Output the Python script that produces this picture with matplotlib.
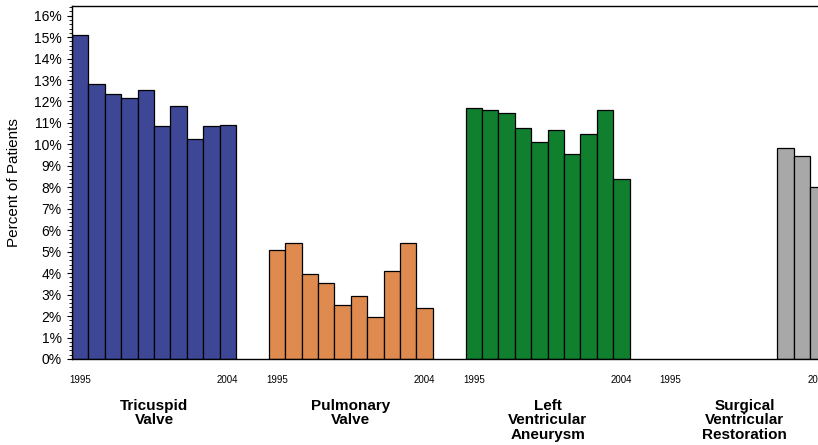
import numpy as np
import matplotlib
matplotlib.use("Agg")
import matplotlib.pyplot as plt
from matplotlib.ticker import MultipleLocator, FuncFormatter
from matplotlib.transforms import blended_transform_factory

plt.rcParams['font.family'] = ['Liberation Sans', 'DejaVu Sans']

years = list(range(1995, 2005))
groups = ["Tricuspid\nValve", "Pulmonary\nValve",
          "Left\nVentricular\nAneurysm", "Surgical\nVentricular\nRestoration"]

tricuspid = [15.1, 12.8, 12.35, 12.15, 12.55, 10.85, 11.8, 10.25, 10.85, 10.9]
pulmonary = [5.07, 5.42, 3.95, 3.55, 2.5, 2.95, 1.98, 4.1, 5.42, 2.37]
lv_aneurysm = [11.7, 11.6, 11.45, 10.78, 10.12, 10.66, 9.57, 10.5, 11.6, 8.4]
svr = [np.nan] * 7 + [9.85, 9.47, 8.03]

series = [tricuspid, pulmonary, lv_aneurysm, svr]
colors = ["#3d4796", "#df8b4f", "#10802f", "#a8a8a8"]

group_step = 12  # 10 bars plus a gap of two bar widths

fig = plt.figure(figsize=(8.18, 4.45), dpi=100)
# axes runs past the right edge of the figure, as in the cropped original
ax = fig.add_axes([72 / 818, 86 / 445, 47 * 16.4 / 818, 353 / 445])

tick_pos = []
tick_lab = []
for g, (vals, col) in enumerate(zip(series, colors)):
    x = g * group_step + np.arange(len(years))
    v = np.array(vals, dtype=float)
    ok = ~np.isnan(v)
    ax.bar(x[ok], v[ok], width=1.0, color=col, edgecolor="black", linewidth=0.9)
    tick_pos += [x[0], x[-1]]
    tick_lab += [str(years[0]), str(years[-1])]

ax.set_xlim(-0.5, 46.5)
ax.set_ylim(0, 16.45)

ax.set_xticks(tick_pos)
ax.set_xticklabels(tick_lab, fontsize=7)
ax.tick_params(axis="x", length=0, pad=11.5)

ax.yaxis.set_major_locator(MultipleLocator(1))
ax.yaxis.set_minor_locator(MultipleLocator(0.2))
ax.yaxis.set_major_formatter(FuncFormatter(lambda v, p: f"{v:.0f}%"))
ax.tick_params(axis="y", which="major", length=3.5, width=0.8, labelsize=10, pad=4)
ax.tick_params(axis="y", which="minor", length=2, width=0.6)

for s in ax.spines.values():
    s.set_linewidth(1.0)

ax.set_ylabel("Percent of Patients", fontsize=11)
ax.yaxis.set_label_coords(-51 / 767, 0.5)

trans = blended_transform_factory(ax.transData, ax.transAxes)
for g, name in enumerate(groups):
    xc = g * group_step + 4.5
    ax.text(xc, -0.112, name, transform=trans, ha="center", va="top",
            fontsize=11, fontweight="bold", linespacing=1.08)

fig.savefig("out.png", dpi=100)
